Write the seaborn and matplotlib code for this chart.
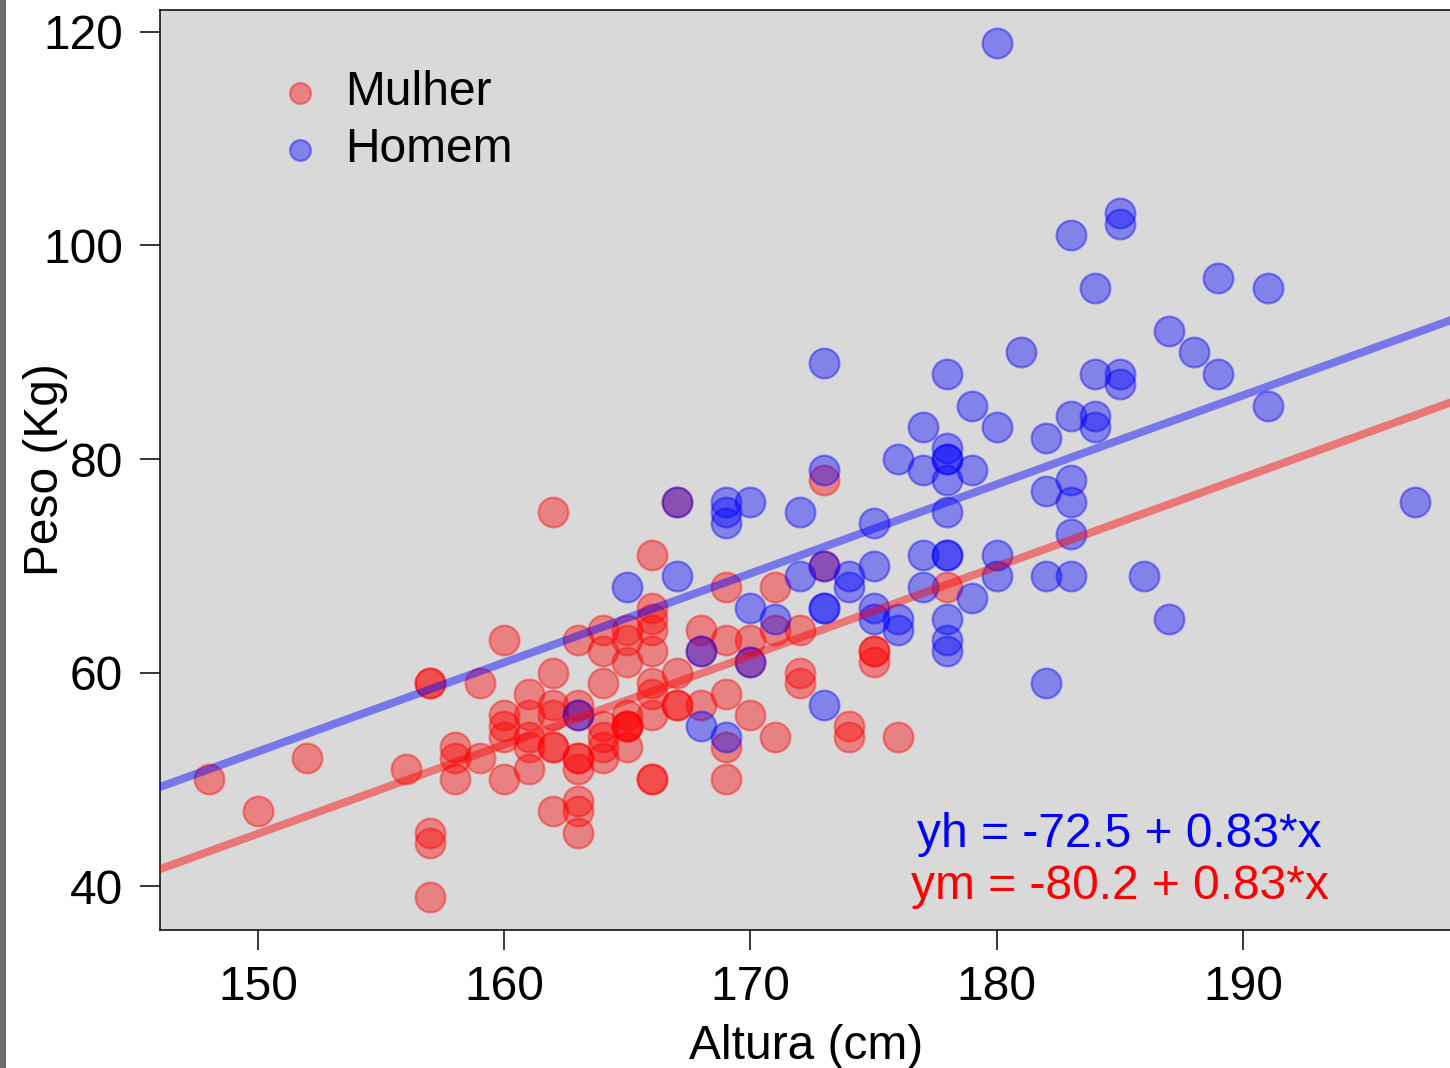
import matplotlib
matplotlib.use("Agg")
import matplotlib.pyplot as plt
from matplotlib.patches import Rectangle
import seaborn as sns
import pandas as pd

# ---- data ----
altura_mulher = [148, 150, 152, 156,
                 157, 157, 157, 157, 157,
                 158, 158, 158,
                 159, 159,
                 160, 160, 160, 160, 160,
                 161, 161, 161, 161, 161,
                 162, 162, 162, 162, 162, 162, 162,
                 163, 163, 163, 163, 163, 163, 163, 163, 163,
                 164, 164, 164, 164, 164, 164, 164,
                 165, 165, 165, 165, 165, 165, 165, 165,
                 166, 166, 166, 166, 166, 166, 166, 166, 166, 166,
                 167, 167, 167, 167,
                 168, 168, 168,
                 169, 169, 169, 169, 169,
                 170, 170, 170,
                 171, 171, 171,
                 172, 172, 172,
                 173, 173,
                 174, 174,
                 175, 175, 175,
                 176, 178]
peso_mulher = [50, 47, 52, 51,
               59, 59, 45, 44, 39,
               53, 52, 50,
               59, 52,
               63, 56, 55, 54, 50,
               58, 56, 54, 53, 51,
               75, 60, 57, 56, 53, 53, 47,
               63, 57, 56, 52, 52, 51, 48, 47, 45,
               64, 62, 59, 55, 54, 53, 52,
               64, 63, 61, 56, 55, 55, 55, 53,
               71, 66, 65, 64, 62, 59, 58, 56, 50, 50,
               76, 60, 57, 57,
               64, 62, 57,
               68, 63, 58, 53, 50,
               63, 61, 56,
               68, 64, 54,
               64, 60, 59,
               78, 70,
               55, 54,
               62, 62, 61,
               54, 68]

altura_homem = [163, 165,
                167, 167,
                168, 168,
                169, 169, 169, 169,
                170, 170, 170,
                171,
                172, 172,
                173, 173, 173, 173, 173, 173,
                174, 174,
                175, 175, 175, 175,
                176, 176, 176,
                177, 177, 177, 177,
                178, 178, 178, 178, 178, 178, 178, 178, 178, 178, 178,
                179, 179, 179,
                180, 180, 180, 180,
                181,
                182, 182, 182, 182,
                183, 183, 183, 183, 183, 183,
                184, 184, 184, 184,
                185, 185, 185, 185,
                186,
                187, 187,
                188,
                189, 189,
                191, 191,
                197]
peso_homem = [56, 68,
              76, 69,
              62, 55,
              76, 75, 74, 54,
              76, 66, 61,
              65,
              75, 69,
              89, 79, 70, 66, 66, 57,
              69, 68,
              74, 70, 66, 65,
              80, 65, 64,
              83, 79, 71, 68,
              88, 81, 80, 80, 78, 75, 71, 71, 65, 63, 62,
              85, 79, 67,
              119, 83, 71, 69,
              90,
              82, 77, 69, 59,
              101, 84, 78, 76, 73, 69,
              96, 88, 84, 83,
              103, 102, 88, 87,
              69,
              92, 65,
              90,
              97, 88,
              96, 85,
              76]

# regression lines (common slope; the text shows it rounded to 2 decimals)
intercepto_homem = -72.5
intercepto_mulher = -80.2
inclinacao = 0.834

grupos = ["Mulher", "Homem"]
cores = {"Mulher": "#FF0000", "Homem": "#0000FF"}
x_ticks = [150, 160, 170, 180, 190]
y_ticks = [40, 60, 80, 100, 120]

df = pd.DataFrame({
    "Altura": altura_mulher + altura_homem,
    "Peso": peso_mulher + peso_homem,
    "Sexo": ["Mulher"] * len(altura_mulher) + ["Homem"] * len(altura_homem),
})

# ---- style ----
sns.set_style("ticks")
plt.rcParams["font.family"] = ["Liberation Sans", "DejaVu Sans"]
plt.rcParams["text.color"] = "black"
plt.rcParams["axes.labelcolor"] = "black"
plt.rcParams["xtick.color"] = "black"
plt.rcParams["ytick.color"] = "black"

FS = 34.5

fig = plt.figure(figsize=(14.5, 10.68), dpi=100)
fig.patch.set_facecolor("white")
fig.patches.append(Rectangle((0, 0), 6 / 1450, 1, transform=fig.transFigure,
                             facecolor="#6e6e6e", edgecolor="none", zorder=0))

ax = fig.add_axes([160 / 1450, 138 / 1068, 1292 / 1450, 920 / 1068])
ax.set_facecolor("#D9D9D9")

for g in grupos:
    sub = df[df["Sexo"] == g]
    sns.scatterplot(data=sub, x="Altura", y="Peso", ax=ax, color=cores[g],
                    edgecolor=cores[g], alpha=0.4, s=460, linewidth=1.6,
                    label=g, zorder=2)

ax.axline((0, intercepto_homem), slope=inclinacao, color="#0000FF",
          alpha=0.45, lw=5.8, zorder=3)
ax.axline((0, intercepto_mulher), slope=inclinacao, color="#FF0000",
          alpha=0.45, lw=5.8, zorder=3)

ax.set_xlim(146.02, 198.49)
ax.set_ylim(35.88, 122.06)
ax.set_xticks(x_ticks)
ax.set_yticks(y_ticks)
ax.tick_params(axis="both", length=14.5, width=1.1, labelsize=FS,
               color="black", labelcolor="black", direction="out")
ax.tick_params(axis="x", pad=11)
ax.tick_params(axis="y", pad=12)
for s in ax.spines.values():
    s.set_visible(True)
    s.set_color("black")
    s.set_linewidth(1.1)

ax.set_xlabel("Altura (cm)", fontsize=FS)
ax.set_ylabel("Peso (Kg)", fontsize=FS)
ax.xaxis.set_label_coords(0.5, -0.1261)
ax.xaxis.label.set_va("center")
ax.yaxis.set_label_coords(-0.089, 0.5)
ax.yaxis.label.set_va("center")

ax.text(0.899, 0.1043, f"yh = {intercepto_homem} + {inclinacao:.2f}*x",
        transform=ax.transAxes, color="#0000FF", fontsize=FS,
        ha="right", va="center")
ax.text(0.905, 0.0478, f"ym = {intercepto_mulher} + {inclinacao:.2f}*x",
        transform=ax.transAxes, color="#FF0000", fontsize=FS,
        ha="right", va="center")

ax.legend(loc="upper left", bbox_to_anchor=(0.0749, 0.9554), frameon=False,
          fontsize=FS, markerscale=0.7, handlelength=1.0, handletextpad=0.44,
          labelspacing=0.25, borderaxespad=0, borderpad=0.4)

fig.savefig("out.png", dpi=100)
